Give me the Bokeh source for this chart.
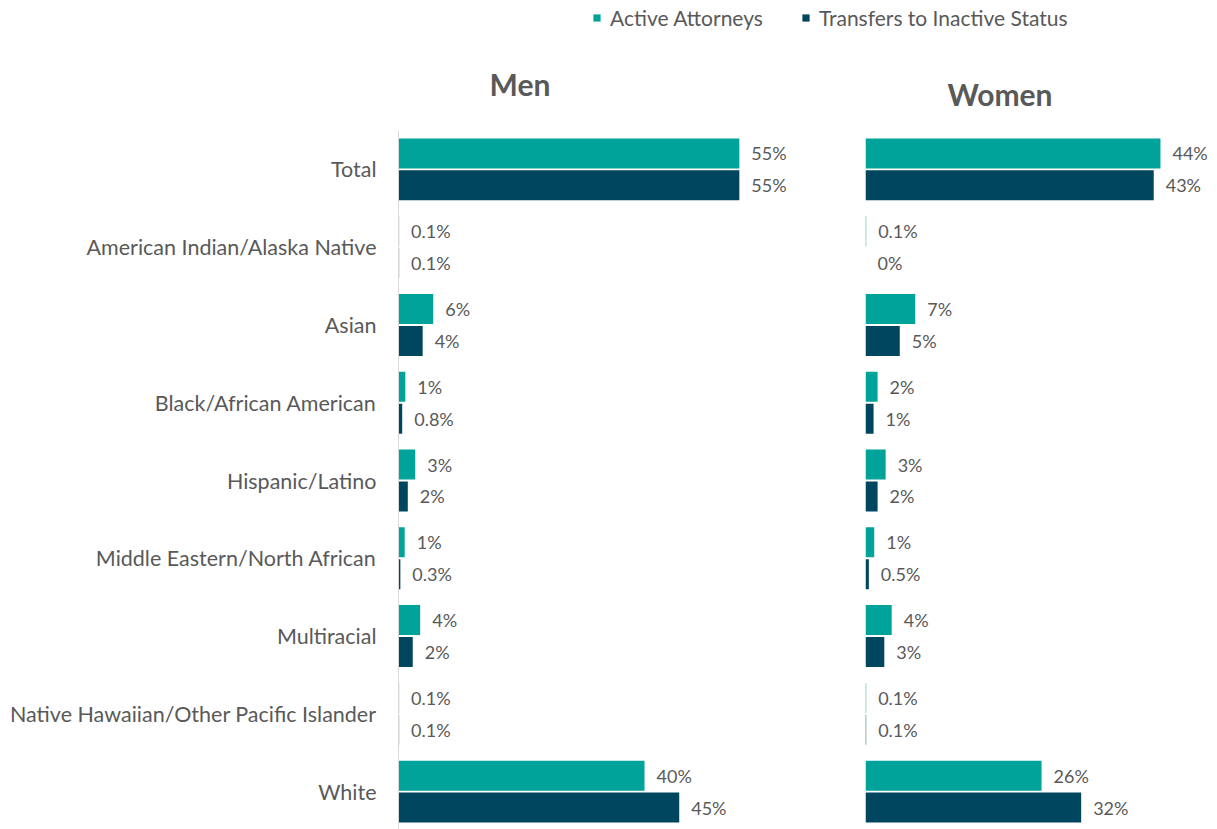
from bokeh.plotting import figure
from bokeh.models import FactorRange, Range1d, ColumnDataSource, Legend, LegendItem
from bokeh.layouts import column, row
from bokeh.transform import dodge
from bokeh.core.properties import value
from bokeh.embed import file_html
from bokeh.resources import INLINE

categories = ["Total", "American Indian/Alaska Native", "Asian", "Black/African American",
              "Hispanic/Latino", "Middle Eastern/North African", "Multiracial",
              "Native Hawaiian/Other Pacific Islander", "White"]

men_active = [55, 0.1, 5.6, 1.1, 2.7, 1.0, 3.5, 0.1, 39.7]
men_transfer = [55, 0.1, 3.9, 0.6, 1.5, 0.3, 2.3, 0.1, 45.3]
men_active_lbl = ["55%", "0.1%", "6%", "1%", "3%", "1%", "4%", "0.1%", "40%"]
men_transfer_lbl = ["55%", "0.1%", "4%", "0.8%", "2%", "0.3%", "2%", "0.1%", "45%"]

women_active = [43.9, 0.1, 7.4, 1.8, 3.0, 1.3, 3.9, 0.1, 26.2]
women_transfer = [42.9, 0.0, 5.1, 1.2, 1.8, 0.5, 2.8, 0.1, 32.1]
women_active_lbl = ["44%", "0.1%", "7%", "2%", "3%", "1%", "4%", "0.1%", "26%"]
women_transfer_lbl = ["43%", "0%", "5%", "1%", "2%", "0.5%", "3%", "0.1%", "32%"]

series_names = ["Active Attorneys", "Transfers to Inactive Status"]

TEAL = "#00A39A"
NAVY = "#00465F"
TXT = "#595959"
FONT = "Lato"


def panel(title, act, trn, act_lbl, trn_lbl, xmax, frame_w, left_border, right_border,
          show_axis, title_offset, title_standoff):
    src = ColumnDataSource(dict(cat=categories, act=act, trn=trn,
                                act_lbl=act_lbl, trn_lbl=trn_lbl))
    p = figure(y_range=FactorRange(factors=list(reversed(categories))),
               x_range=Range1d(0, xmax),
               frame_width=frame_w, frame_height=700,
               min_border_left=left_border, min_border_right=right_border,
               min_border_top=94, min_border_bottom=0,
               output_backend="svg", toolbar_location=None,
               title=title)
    p.title.text_font = FONT
    p.title.text_font_size = "30px"
    p.title.text_font_style = "bold"
    p.title.text_color = TXT
    p.title.align = "left"
    p.title.offset = title_offset
    p.title.standoff = title_standoff

    p.hbar(y=dodge("cat", 0.205, range=p.y_range), right="act", left=0, height=0.386,
           source=src, fill_color=TEAL, line_color=None)
    p.hbar(y=dodge("cat", -0.205, range=p.y_range), right="trn", left=0, height=0.386,
           source=src, fill_color=NAVY, line_color=None)

    p.text(x="act", y=dodge("cat", 0.205, range=p.y_range), text="act_lbl", source=src,
           x_offset=12, text_baseline="middle", text_align="left",
           text_font=value(FONT), text_font_size="18px", text_color=TXT)
    p.text(x="trn", y=dodge("cat", -0.205, range=p.y_range), text="trn_lbl", source=src,
           x_offset=12, text_baseline="middle", text_align="left",
           text_font=value(FONT), text_font_size="18px", text_color=TXT)

    p.xaxis.visible = False
    p.xgrid.visible = False
    p.ygrid.visible = False
    p.outline_line_color = None
    if show_axis:
        ax = p.yaxis[0]
        ax.axis_line_color = "#D9D9D9"
        ax.major_tick_line_color = None
        ax.minor_tick_line_color = None
        ax.major_label_text_font = FONT
        ax.major_label_text_font_size = "21.5px"
        ax.major_label_text_color = TXT
        ax.major_label_standoff = 16
    else:
        p.yaxis.visible = False
    return p


men = panel("Men", men_active, men_transfer, men_active_lbl, men_transfer_lbl,
            71.0, 440, 398, 12, True, 91, 57)
women = panel("Women", women_active, women_transfer, women_active_lbl, women_transfer_lbl,
              51.2, 344, 15, 0, False, 82, 37)

# Legend strip: legend keys only (their dummy bars sit far outside the visible ranges)
leg = figure(width=1209, height=35, x_range=Range1d(0, 1), y_range=Range1d(0, 1),
             min_border=0, output_backend="svg", toolbar_location=None)
leg.axis.visible = False
leg.grid.visible = False
leg.outline_line_color = None
key_src = ColumnDataSource(dict(y=[50.0], left=[50.0], right=[51.0]))
r1 = leg.hbar(y="y", right="right", left="left", height=0.1, source=key_src,
              fill_color=TEAL, line_color=None)
r2 = leg.hbar(y="y", right="right", left="left", height=0.1, source=key_src,
              fill_color=NAVY, line_color=None)
legend = Legend(items=[LegendItem(label=series_names[0], renderers=[r1]),
                       LegendItem(label=series_names[1], renderers=[r2])],
                orientation="horizontal", location=(592, 5),
                glyph_width=9, glyph_height=9, label_standoff=9, spacing=38,
                padding=0, margin=0, border_line_color=None, background_fill_alpha=0,
                label_text_font=FONT, label_text_font_size="21px", label_text_color=TXT)
leg.add_layout(legend, "center")

layout = column(leg, row(men, women, spacing=0), spacing=0)

open("out.html", "w").write(file_html(layout, INLINE))
